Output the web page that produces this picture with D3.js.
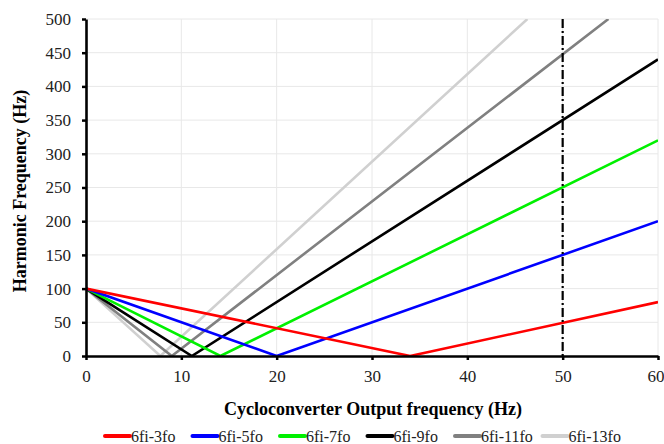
<!DOCTYPE html>
<html><head><meta charset="utf-8">
<script src="https://cdn.jsdelivr.net/npm/d3@7"></script>
<style>body{margin:0;background:#fff}svg{display:block}</style>
</head><body>
<svg id="c" width="664" height="444"></svg>
<script>
const seriesNames = ["6fi-3fo","6fi-5fo","6fi-7fo","6fi-9fo","6fi-11fo","6fi-13fo"];
const seriesColors = ["#ff0000","#0000ff","#00f000","#000000","#808080","#d0d0d0"];
const red   = [[0,100],[34,0],[60,80]];
const blue  = [[0,100],[20,0],[60,200]];
const green = [[0,100],[14.1,0],[60,320]];
const black = [[0,100],[11.1,0],[60,440]];
const gray  = [[0,100],[9,0],[54.8,500]];
const light = [[0,100],[7.8,0],[46.3,500]];
const seriesData = [red,blue,green,black,gray,light];
const xTicks = [0,10,20,30,40,50,60];
const yTicks = [0,50,100,150,200,250,300,350,400,450,500];
const markerX = 50;

const svg = d3.select("#c");
const x = d3.scaleLinear().domain([0,60]).range([86,658]);
const y = d3.scaleLinear().domain([0,500]).range([356,19]);
const font = "'Liberation Serif','Times New Roman',serif";

// grid
svg.append("g").selectAll("line").data(xTicks.slice(1)).join("line")
  .attr("x1",d=>x(d)).attr("x2",d=>x(d)).attr("y1",y(0)).attr("y2",y(500))
  .attr("stroke","#e8e8e8").attr("stroke-width",1);
svg.append("g").selectAll("line").data(yTicks.slice(1)).join("line")
  .attr("x1",x(0)).attr("x2",x(60)).attr("y1",d=>y(d)).attr("y2",d=>y(d))
  .attr("stroke","#e8e8e8").attr("stroke-width",1);

// clip
svg.append("clipPath").attr("id","clip").append("rect")
  .attr("x",x(0)).attr("y",y(500)).attr("width",x(60)-x(0)).attr("height",y(0)-y(500));

const line = d3.line().x(d=>x(d[0])).y(d=>y(d[1]));
const lg = svg.append("g").attr("clip-path","url(#clip)");
seriesData.map((d,i)=>({d,i})).reverse().forEach(({d,i})=>{
  lg.append("path").attr("d",line(d)).attr("fill","none")
    .attr("stroke",seriesColors[i]).attr("stroke-width",2.6);
});

// marker line
svg.append("line").attr("x1",x(markerX)).attr("x2",x(markerX)).attr("y1",y(500)).attr("y2",y(0))
  .attr("stroke","#000").attr("stroke-width",2.2).attr("stroke-dasharray","9,3,2,3");

// axes
const xAxis = svg.append("g").attr("transform",`translate(0,${y(0)})`)
  .call(d3.axisBottom(x).tickValues(xTicks).tickSize(4).tickSizeOuter(0).tickPadding(10));
const yAxis = svg.append("g").attr("transform",`translate(${x(0)},0)`)
  .call(d3.axisLeft(y).tickValues(yTicks).tickSize(4).tickSizeOuter(0).tickPadding(11));
[xAxis,yAxis].forEach(a=>{
  a.select(".domain").attr("stroke","#000").attr("stroke-width",2.6);
  a.selectAll(".tick line").attr("stroke","#000").attr("stroke-width",2.5);
  a.selectAll("text").attr("font-family",font).attr("font-size",17).attr("fill","#222");
});
xAxis.selectAll(".tick").filter(d=>d===60).select("text").attr("text-anchor","end").attr("x",6);

// titles
svg.append("text").attr("x",373).attr("y",415).attr("text-anchor","middle")
  .attr("font-family",font).attr("font-size",18).attr("font-weight","bold")
  .text("Cycloconverter Output frequency (Hz)");
svg.append("text").attr("transform","translate(26,191) rotate(-90)").attr("text-anchor","middle")
  .attr("font-family",font).attr("font-size",18).attr("font-weight","bold")
  .text("Harmonic Frequency (Hz)");

// legend
const leg = svg.append("g");
const legStart = 105, legStep = 87.5;
seriesNames.forEach((n,i)=>{
  const lx = legStart + i*legStep;
  leg.append("line").attr("x1",lx).attr("x2",lx+25).attr("y1",436).attr("y2",436)
    .attr("stroke",seriesColors[i]).attr("stroke-width",4).attr("stroke-linecap","round");
  leg.append("text").attr("x",lx+26).attr("y",442)
    .attr("font-family",font).attr("font-size",16).attr("fill","#222").text(n);
});
</script>
</body></html>
